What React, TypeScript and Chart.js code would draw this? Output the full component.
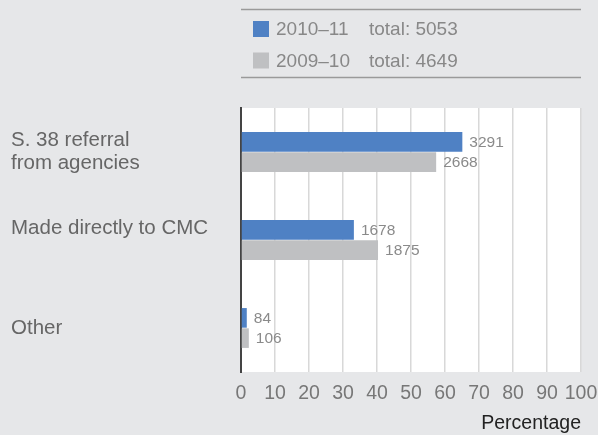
import React, { useEffect, useRef } from "react";
import { Chart, registerables } from "chart.js";

Chart.register(...registerables);

const categories: (string | string[])[] = [
  ["S. 38 referral", "from agencies"],
  ["Made directly to CMC", ""],
  "Other",
];
const seriesNames = ["2010–11", "2009–10"];
const seriesTotals = ["total: 5053", "total: 4649"];
// bar lengths, percentage of each year's total
const pct2010 = [65.1, 33.2, 1.7];
const pct2009 = [57.4, 40.3, 2.3];
// counts shown next to the bars
const count2010 = [3291, 1678, 84];
const count2009 = [2668, 1875, 106];
const xTicks = [0, 10, 20, 30, 40, 50, 60, 70, 80, 90, 100];

const BLUE = "#4f81c4";
const GREY = "#bfc0c2";
const BG = "#e6e7e9";
const FONT = "'Liberation Sans', Arial, Helvetica, sans-serif";

const plotBg = {
  id: "plotBg",
  beforeDraw(chart: any) {
    const { ctx, chartArea: a } = chart;
    ctx.save();
    ctx.fillStyle = "#ffffff";
    ctx.fillRect(a.left, a.top, a.right - a.left, a.bottom - a.top);
    ctx.restore();
  },
};

const valueLabels = {
  id: "valueLabels",
  afterDatasetsDraw(chart: any) {
    const { ctx } = chart;
    const counts = [count2010, count2009];
    ctx.save();
    ctx.font = `15.5px ${FONT}`;
    ctx.fillStyle = "#8a8a8a";
    ctx.textAlign = "left";
    ctx.textBaseline = "middle";
    chart.data.datasets.forEach((ds: any, di: number) => {
      const meta = chart.getDatasetMeta(di);
      meta.data.forEach((bar: any, i: number) => {
        ctx.fillText(String(counts[di][i]), bar.x + 7, bar.y + 1);
      });
    });
    ctx.restore();
  },
};

const topLegend = {
  id: "topLegend",
  afterDraw(chart: any) {
    const { ctx, chartArea: a } = chart;
    ctx.save();
    ctx.strokeStyle = "#9a9a9a";
    ctx.lineWidth = 1.5;
    [9.5, 77.5].forEach((y) => {
      ctx.beginPath();
      ctx.moveTo(a.left, y);
      ctx.lineTo(a.right, y);
      ctx.stroke();
    });
    const colors = [BLUE, GREY];
    ctx.font = `19px ${FONT}`;
    ctx.textBaseline = "middle";
    ctx.textAlign = "left";
    seriesNames.forEach((name, i) => {
      const cy = 29 + i * 31.5;
      ctx.fillStyle = colors[i];
      ctx.fillRect(a.left + 12, cy - 8, 16, 16);
      ctx.fillStyle = "#888888";
      ctx.fillText(name, a.left + 35, cy + 1);
      ctx.fillText(seriesTotals[i], a.left + 128, cy + 1);
    });
    ctx.restore();
  },
};

export default function App() {
  const ref = useRef<HTMLCanvasElement | null>(null);
  useEffect(() => {
    if (!ref.current) return;
    const chart = new Chart(ref.current, {
      type: "bar",
      data: {
        labels: categories,
        datasets: [
          { label: seriesNames[0], data: pct2010, backgroundColor: BLUE },
          { label: seriesNames[1], data: pct2009, backgroundColor: GREY },
        ],
      },
      options: {
        indexAxis: "y",
        animation: false,
        responsive: false,
        maintainAspectRatio: false,
        layout: { padding: { top: 108, left: 11, right: 17, bottom: 0 } },
        datasets: {
          bar: { barPercentage: 0.97, categoryPercentage: 0.46 },
        },
        plugins: {
          legend: { display: false },
          tooltip: { enabled: false },
        },
        scales: {
          x: {
            min: 0,
            max: 100,
            afterBuildTicks: (s: any) => {
              s.ticks = xTicks.map((v) => ({ value: v }));
            },
            afterFit: (s: any) => {
              s.height = 63;
              s.paddingLeft = 0;
              s.paddingRight = 0;
            },
            grid: { color: "#d8d8d8", lineWidth: 1.5, drawTicks: false },
            border: { display: false },
            ticks: {
              color: "#777777",
              font: { family: FONT, size: 19.5 },
              padding: 10,
              maxRotation: 0,
              autoSkip: false,
            },
            title: {
              display: true,
              text: "Percentage",
              align: "end",
              color: "#222222",
              font: { family: FONT, size: 19.5 },
              padding: { top: 4, bottom: 0 },
            },
          },
          y: {
            afterFit: (s: any) => {
              s.width = 230;
              s.paddingTop = 0;
              s.paddingBottom = 0;
            },
            grid: { display: false },
            border: { display: true, color: "#444444", width: 2 },
            ticks: {
              crossAlign: "far",
              color: "#666666",
              font: { family: FONT, size: 20.5, lineHeight: 1.1 },
            },
          },
        },
      },
      plugins: [plotBg, valueLabels, topLegend],
    });
    return () => chart.destroy();
  }, []);
  return (
    <div
      style={{
        position: "fixed",
        left: 0,
        top: 0,
        width: 598,
        height: 435,
        background: BG,
      }}
    >
      <canvas ref={ref} width={598} height={435} style={{ display: "block" }} />
    </div>
  );
}
